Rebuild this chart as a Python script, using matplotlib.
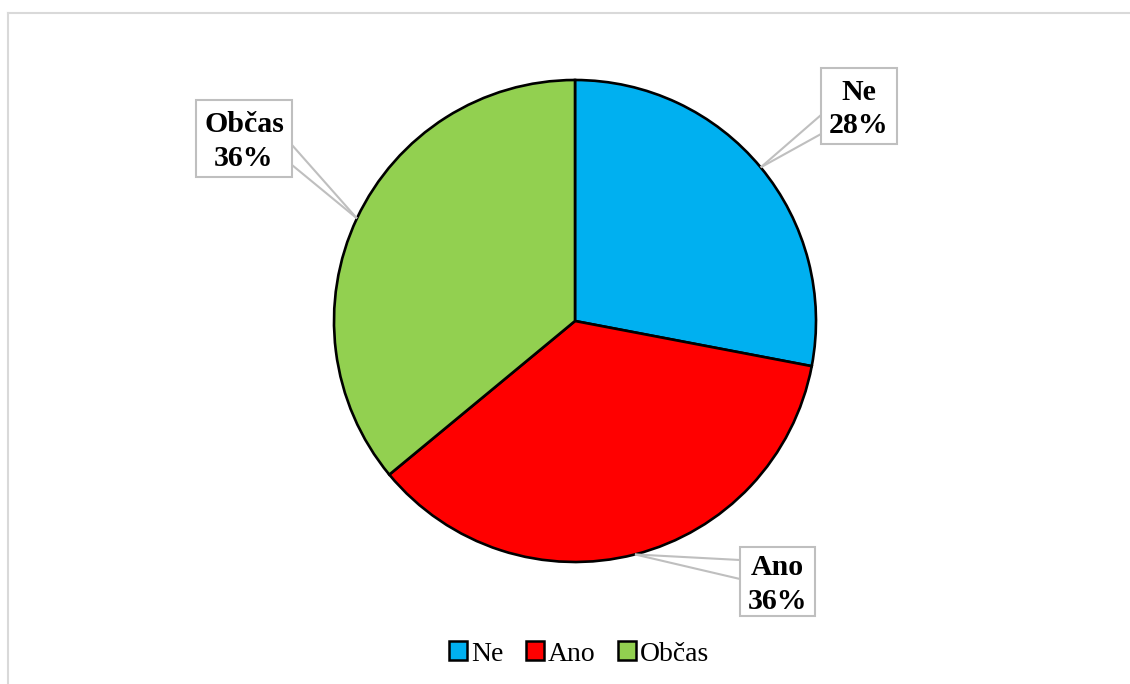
import numpy as np
import matplotlib.pyplot as plt
from matplotlib.patches import Rectangle
from matplotlib.lines import Line2D

# data
labels = ['Ne', 'Ano', 'Občas']
values = [28, 36, 36]
colors = ['#00B0F0', '#FF0000', '#92D050']

# layout in pixels (center and radius of pie)
W, H = 1130, 684
cx, cy, R = 575, 321, 241

def px(x, y):
    return (x - cx) / R, (cy - y) / R

plt.rcParams['font.family'] = ['Liberation Serif', 'DejaVu Serif']

fig = plt.figure(figsize=(W / 100, H / 100), dpi=100)
ax = fig.add_axes([0, 0, 1, 1])
ax.axis('off')

wedges, _ = ax.pie(values, colors=colors, startangle=90, counterclock=False,
                   radius=1, center=(0, 0),
                   wedgeprops=dict(edgecolor='black', linewidth=1.9))
ax.set_xlim(-cx / R, (W - cx) / R)
ax.set_ylim((cy - H) / R, cy / R)
ax.set_aspect('auto')

# label boxes: (left, top, right, bottom), side of pointer, pointer y range
boxes = [
    ((821, 68, 897, 144), 'left', (115, 134)),
    ((740, 547, 815, 616), 'left', (560, 579)),
    ((196, 100, 292, 177), 'right', (145, 165)),
]

grey = '#BFBFBF'
for w, lab, val, (rect, side, (ya, yb)) in zip(wedges, labels, values, boxes):
    mid = np.deg2rad((w.theta1 + w.theta2) / 2)
    anchor = (np.cos(mid), np.sin(mid))
    l, t, r, b = rect
    x0, y0 = px(l, b)
    x1, y1 = px(r, t)
    ax.add_patch(Rectangle((x0, y0), x1 - x0, y1 - y0, facecolor='white',
                           edgecolor=grey, linewidth=1.5, zorder=3))
    sx = l if side == 'left' else r
    for yy in (ya, yb):
        p = px(sx, yy)
        ax.plot([p[0], anchor[0]], [p[1], anchor[1]], color=grey, lw=1.5,
                zorder=3, solid_capstyle='butt')
    tx, ty = px((l + r) / 2, (t + b) / 2 + 3)
    ax.text(tx, ty, f'{lab}\n{val}%', ha='center', va='center',
            fontsize=21.5, fontweight='bold', zorder=4, linespacing=1.3)

# outer chart frame (only top and left visible)
fig.add_artist(Line2D([8 / W, 1], [1 - 13 / H, 1 - 13 / H], color='#D9D9D9', lw=1.5))
fig.add_artist(Line2D([8 / W, 8 / W], [0, 1 - 13 / H], color='#D9D9D9', lw=1.5))

handles = [Rectangle((0, 0), 1, 1, facecolor=c, edgecolor='black', linewidth=1.8)
           for c in colors]
fig.legend(handles, labels, loc='center', bbox_to_anchor=(579 / W, 1 - 654 / H),
           ncol=3, frameon=False, fontsize=20, handlelength=0.65, handleheight=0.65,
           handletextpad=0.15, columnspacing=0.8, borderpad=0)

fig.savefig('out.png', dpi=100)
